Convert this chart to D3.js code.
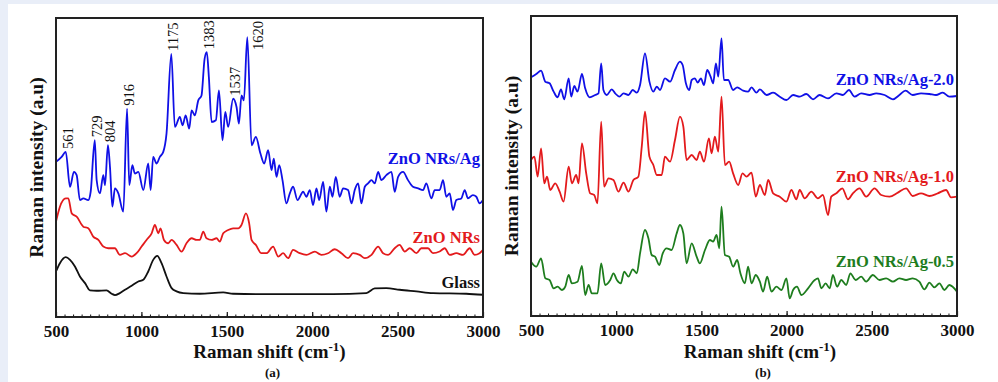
<!DOCTYPE html>
<html><head><meta charset="utf-8">
<script src="https://cdn.jsdelivr.net/npm/d3@7/dist/d3.min.js"></script>
<style>
html,body{margin:0;padding:0;background:#e9eef8;}
svg{display:block;}
</style></head>
<body>
<svg id="chart" width="998" height="382"></svg>
<script>
// ---------- DATA (wavenumber cm^-1, intensity a.u.) ----------
const xTicks = [500, 1000, 1500, 2000, 2500, 3000];

const agWn = [500,533,557,582,605,621,640,660,689,703,727,738,757,777,787,804,816,830,845,865,894,916,929,947,962,982,1011,1040,1054,1069,1089,1108,1128,1147,1175,1196,1225,1241,1259,1280,1294,1313,1333,1352,1370,1383,1395,1411,1436,1454,1475,1491,1508,1537,1557,1571,1586,1600,1620,1645,1670,1697,1719,1742,1762,1775,1791,1807,1826,1849,1869,1888,1914,1947,1966,1986,2005,2025,2041,2064,2083,2103,2119,2138,2161,2181,2210,2230,2249,2269,2288,2308,2327,2347,2366,2386,2405,2434,2464,2483,2503,2532,2561,2590,2620,2649,2668,2698,2717,2746,2766,2785,2805,2824,2844,2873,2893,2912,2941,2961,2980,3000];
const agI  = [467,482,497,392,437,427,352,357,352,377,532,412,372,427,397,517,452,332,387,372,317,627,397,457,432,437,382,462,382,482,462,482,497,552,792,572,602,577,607,567,622,607,652,667,777,797,722,587,592,682,532,617,572,657,632,582,667,652,842,517,542,492,462,502,442,477,422,457,412,342,372,392,352,377,362,382,337,387,352,407,317,392,362,422,362,387,382,342,382,402,342,392,402,412,402,437,412,427,437,377,422,437,412,392,387,382,402,357,382,382,412,362,372,322,352,357,382,357,367,362,342,352];

const znoWn = [500,523,557,572,592,621,660,689,718,748,777,806,845,874,904,943,972,1001,1030,1060,1079,1099,1112,1132,1157,1177,1206,1235,1264,1294,1323,1342,1362,1381,1411,1440,1459,1479,1508,1537,1567,1586,1612,1631,1645,1670,1703,1732,1771,1801,1830,1859,1888,1927,1966,2015,2054,2093,2132,2171,2210,2239,2278,2308,2347,2386,2415,2444,2483,2512,2542,2571,2610,2639,2678,2707,2746,2776,2805,2844,2883,2922,2951,2980,3000];
const znoI  = [287,332,357,357,312,302,272,267,242,232,212,207,207,187,192,182,192,212,232,252,277,252,267,232,222,232,217,197,222,237,232,232,257,237,232,237,227,252,262,267,267,277,312,282,232,217,192,192,212,182,192,177,202,192,187,197,187,192,204,192,177,192,187,177,187,212,192,187,207,217,197,207,192,207,207,192,197,207,187,192,187,207,187,192,202];

const glassWn = [500,523,557,582,611,640,670,699,738,796,826,845,874,904,943,982,1011,1040,1069,1093,1118,1147,1177,1206,1245,1342,1479,1537,1732,1927,2122,2317,2366,2434,2512,2610,2707,2902,3000];
const glassI  = [137,162,180,172,152,122,102,80,79,80,70,66,72,82,94,107,112,137,172,184,162,122,87,77,72,70,74,70,69,69,69,72,86,87,82,77,72,70,67];

const peakLabels = [561,729,804,916,1175,1383,1537,1620];

const ag20Wn = [500,531,559,584,609,633,656,676,695,721,736,754,773,799,818,844,877,896,912,925,945,974,994,1019,1043,1072,1097,1121,1140,1169,1195,1218,1238,1257,1286,1316,1345,1374,1390,1409,1429,1443,1462,1478,1497,1515,1534,1554,1569,1585,1599,1618,1632,1657,1686,1710,1745,1774,1794,1823,1843,1882,1921,1960,1999,2038,2077,2116,2155,2194,2243,2292,2331,2366,2399,2438,2487,2526,2575,2624,2662,2698,2740,2789,2838,2877,2916,2955,3000];
const ag20I  = [716,726,736,703,698,673,656,680,650,713,658,690,673,726,683,656,663,668,758,678,663,680,668,658,668,663,678,670,693,788,703,673,688,678,713,703,738,763,753,698,678,708,713,700,713,693,738,718,698,758,718,833,708,708,678,686,676,673,686,670,680,663,670,658,648,663,658,666,650,663,653,668,663,678,658,668,663,668,663,650,663,676,663,668,666,663,670,658,660];

const ag10Wn = [500,520,539,559,578,594,613,642,668,691,721,740,765,779,799,824,847,871,890,912,929,955,984,1013,1043,1072,1101,1130,1150,1169,1195,1218,1238,1267,1286,1316,1345,1374,1394,1413,1443,1472,1491,1515,1544,1560,1579,1599,1618,1638,1663,1686,1716,1741,1765,1794,1819,1843,1872,1892,1921,1960,1999,2028,2057,2077,2106,2145,2184,2213,2243,2262,2292,2327,2360,2389,2428,2467,2516,2555,2604,2653,2701,2740,2789,2838,2887,2936,2965,3000];
const ag10I  = [468,478,418,503,398,418,378,398,373,343,448,398,423,398,518,428,368,363,338,583,388,413,408,373,400,373,408,418,508,613,478,453,423,423,478,463,528,598,568,468,483,468,493,463,533,488,538,493,658,453,463,428,393,428,418,430,358,393,363,408,368,358,343,378,350,378,353,373,353,363,303,358,368,383,350,368,383,358,383,363,358,370,383,360,368,360,368,378,356,358];

const ag05Wn = [500,531,559,584,609,633,656,682,701,721,740,773,799,818,838,857,890,912,935,965,984,1004,1027,1047,1072,1097,1121,1140,1169,1189,1208,1228,1253,1273,1296,1325,1355,1374,1394,1413,1443,1472,1491,1521,1550,1569,1589,1605,1618,1638,1663,1686,1710,1729,1755,1774,1794,1819,1843,1862,1886,1911,1940,1970,1999,2018,2038,2061,2087,2126,2165,2184,2204,2229,2253,2272,2296,2321,2350,2374,2405,2438,2467,2506,2545,2584,2624,2662,2701,2740,2779,2809,2838,2867,2897,2926,2955,3000];
const ag05I  = [163,148,173,113,108,83,88,78,88,123,98,103,150,63,93,68,68,158,93,108,128,108,98,133,118,140,128,188,258,233,183,178,153,188,203,198,248,273,248,158,218,178,158,198,228,223,243,203,328,183,178,148,168,128,98,148,98,123,103,73,118,73,88,78,113,53,78,88,63,83,108,113,83,98,83,123,88,108,93,128,108,118,103,123,108,113,103,113,108,113,103,80,100,86,98,78,93,73];

const seriesA = [
  {name:"ZnO NRs/Ag", wn:agWn, I:agI, color:"#1010e6"},
  {name:"ZnO NRs", wn:znoWn, I:znoI, color:"#e31a1c"},
  {name:"Glass", wn:glassWn, I:glassI, color:"#111111"}
];
const seriesB = [
  {name:"ZnO NRs/Ag-2.0", wn:ag20Wn, I:ag20I, color:"#1010e6"},
  {name:"ZnO NRs/Ag-1.0", wn:ag10Wn, I:ag10I, color:"#e31a1c"},
  {name:"ZnO NRs/Ag-0.5", wn:ag05Wn, I:ag05I, color:"#1e7d1e"}
];
// series label anchor intensities (annotation)
const labelA = [{s:0, I:477},{s:1, I:240},{s:2, I:105}];
const labelB = [{s:0, I:710},{s:1, I:420},{s:2, I:165}];

// ---------- DRAW ----------
const svg = d3.select("#chart");
svg.append("rect").attr("x",8).attr("y",4).attr("width",990).attr("height",378).attr("fill","#ffffff");

const serif = "'Liberation Serif','Times New Roman',serif";

function panel(opts){
  const {x0,x1,y0,y1,series,labels,letter,titleDx,peaks} = opts;
  const g = svg.append("g");
  const x = d3.scaleLinear().domain([500,3000]).range([x0,x1]);
  const y = d3.scaleLinear().domain([0,900]).range([y1,y0]);

  // lines
  const line = d3.line().x(d=>x(d[0])).y(d=>y(d[1])).curve(d3.curveMonotoneX);
  series.forEach(s=>{
    g.append("path").datum(s.wn.map((w,i)=>[w,s.I[i]]))
      .attr("d",line).attr("fill","none").attr("stroke",s.color)
      .attr("stroke-width",1.8).attr("stroke-linejoin","round");
  });

  // minor ticks
  const minor = d3.range(500,3001,50);
  g.append("g").attr("transform",`translate(0,${y1})`)
    .call(d3.axisBottom(x).tickValues(minor).tickSize(-2.5).tickFormat(""))
    .call(a=>a.select(".domain").remove())
    .call(a=>a.selectAll("line").attr("stroke","#111").attr("stroke-width",1));
  // major ticks
  g.append("g").attr("transform",`translate(0,${y1})`)
    .call(d3.axisBottom(x).tickValues(xTicks).tickSize(-5).tickFormat(d3.format("d")))
    .call(a=>a.select(".domain").remove())
    .call(a=>a.selectAll("line").attr("stroke","#111").attr("stroke-width",1.2))
    .call(a=>a.selectAll("text").attr("font-family",serif).attr("font-weight","bold")
      .attr("font-size","17px").attr("fill","#111").attr("dy","0.35em").attr("y",14.5));

  // frame
  g.append("rect").attr("x",x0).attr("y",y0).attr("width",x1-x0).attr("height",y1-y0)
    .attr("fill","none").attr("stroke","#222").attr("stroke-width",2);

  // series labels
  labels.forEach(l=>{
    const s = series[l.s];
    g.append("text").attr("x",x1-3).attr("y",y(l.I)).attr("dy","0.35em")
      .attr("text-anchor","end").attr("font-family",serif).attr("font-weight","bold")
      .attr("font-size","16.5px").attr("fill",s.color).text(s.name);
  });

  // peak labels
  if(peaks){
    const s = series[0];
    peaks.forEach(p=>{
      let best=-1;
      s.wn.forEach((w,i)=>{ if(Math.abs(w-p)<=12 && s.I[i]>best){best=s.I[i];} });
      let px = x(p)+2, bottom = y(best)-3;
      const len = String(p).length*7;
      if(bottom-len < y0+3){ bottom = y0+len+4; px += 9; }
      g.append("text").attr("transform",`translate(${px},${bottom}) rotate(-90)`)
        .attr("dy","0.35em").attr("font-family",serif).attr("font-size","14.5px")
        .attr("fill","#111").text(p);
    });
  }

  // axis titles
  const cx = (x0+x1)/2 + titleDx;
  const t = g.append("text").attr("x",cx).attr("y",358).attr("text-anchor","middle")
    .attr("font-family",serif).attr("font-weight","bold").attr("font-size","19px").attr("fill","#111");
  t.append("tspan").text("Raman shift (cm");
  t.append("tspan").attr("dy","-7").attr("font-size","13px").text("-1");
  t.append("tspan").attr("dy","7").text(")");
  g.append("text").attr("x",cx+3).attr("y",377).attr("text-anchor","middle")
    .attr("font-family",serif).attr("font-weight","bold").attr("font-size","13px").attr("fill","#111").text(letter);

  g.append("text").attr("transform",`translate(${x0-13},${(y0+y1)/2}) rotate(-90)`)
    .attr("text-anchor","middle").attr("font-family",serif).attr("font-weight","bold")
    .attr("font-size","19.5px").attr("fill","#111").text("Raman intensity (a.u)");
}

panel({x0:56,x1:483,y0:18,y1:317,series:seriesA,labels:labelA,letter:"(a)",titleDx:0,peaks:peakLabels});
panel({x0:531,x1:957,y0:16,y1:316,series:seriesB,labels:labelB,letter:"(b)",titleDx:16,peaks:null});
</script>
</body></html>
